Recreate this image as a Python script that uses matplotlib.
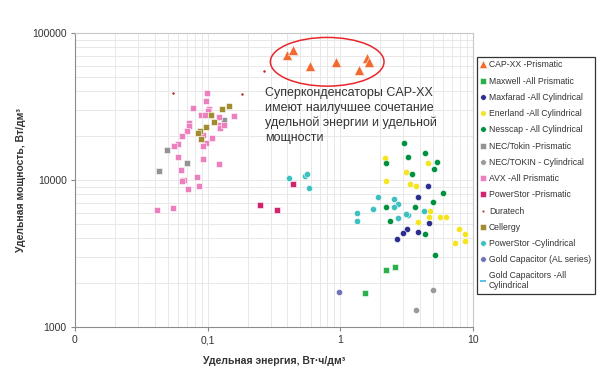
import matplotlib.pyplot as plt
from matplotlib.patches import Ellipse
from matplotlib.ticker import FixedLocator, NullFormatter

plt.rcParams['font.family'] = ['Liberation Sans', 'DejaVu Sans']

# energy (Wh/dm3), power (W/dm3) per manufacturer
capxx_e = [0.398, 0.442, 0.587, 0.922, 1.388, 1.595, 1.643]
capxx_p = [70500, 76600, 59900, 63200, 56000, 67900, 63800]

maxwell_e = [1.54, 2.21, 2.61]
maxwell_p = [1710, 2430, 2570]

maxfarad_e = [4.59, 3.85, 4.71, 3.18, 2.96, 3.85, 2.69]
maxfarad_p = [9100, 7700, 5100, 4660, 4380, 4410, 3970]

enerland_e = [2.18, 4.59, 3.12, 2.23, 3.35, 3.73, 4.73, 4.68, 5.66, 6.32, 3.83, 7.83, 8.72, 8.69, 7.39]
enerland_p = [14100, 13000, 11300, 9890, 9390, 9150, 6120, 5580, 5580, 5580, 5160, 4640, 4290, 3850, 3710]

nesscap_e = [3.05, 3.25, 4.35, 2.22, 5.37, 5.07, 3.45, 6.0, 5.03, 2.22, 3.69, 3.13, 2.36, 4.36, 5.19]
nesscap_p = [17900, 14400, 15300, 13000, 13300, 11900, 10900, 8160, 7120, 6520, 6550, 5870, 5260, 4290, 3070]

nec_pr_e = [0.1334, 0.0493, 0.0695, 0.0430]
nec_pr_p = [25500, 16000, 13100, 11600]

nec_cyl_e = [3.71, 5.01]
nec_cyl_p = [1310, 1780]

avx_e = [0.0988, 0.0966, 0.0779, 0.1023, 0.100, 0.0891, 0.0949, 0.1217, 0.157, 0.0719,
         0.0727, 0.0698, 0.064, 0.0922, 0.1231, 0.1238, 0.1334, 0.1083, 0.0971, 0.0922,
         0.0594, 0.056, 0.0594, 0.0917, 0.1222, 0.063, 0.0666, 0.0644, 0.0835, 0.0711,
         0.086, 0.0417, 0.0544]
avx_p = [39300, 34600, 30900, 30500, 29500, 27800, 27800, 26700, 27400, 24400,
         23400, 21600, 19800, 20200, 23600, 22500, 23800, 19200, 17900, 17000,
         17600, 16900, 14300, 13900, 12900, 11700, 10000, 9800, 10400, 8730,
         9100, 6280, 6450]

ps_pr_e = [0.25, 0.334, 0.439]
ps_pr_p = [6730, 6280, 9440]

duratech_e = [0.0551, 0.1813, 0.2656]
duratech_p = [39100, 38500, 55100]

cellergy_e = [0.1288, 0.144, 0.1054, 0.1115, 0.0966, 0.088, 0.0849, 0.0885]
cellergy_p = [30400, 31900, 27700, 24700, 22800, 21500, 20900, 18900]

ps_cyl_e = [0.408, 0.544, 0.557, 0.583, 1.341, 1.334, 1.78, 1.92, 2.54, 2.73, 2.54, 2.73, 3.25, 3.12, 4.32]
ps_cyl_p = [10300, 10700, 11000, 8820, 5940, 5290, 6380, 7700, 7460, 6900, 6580, 5510, 5780, 5870, 6120]

gold_al_e = [0.982]
gold_al_p = [1740]

gold_cyl_e = []
gold_cyl_p = []

series = [
    ('CAP-XX -Prismatic', capxx_e, capxx_p, '^', '#F26A30', 6.5),
    ('Maxwell -All Prismatic', maxwell_e, maxwell_p, 's', '#2BB04A', 4.2),
    ('Maxfarad -All Cylindrical', maxfarad_e, maxfarad_p, 'o', '#2B2E8C', 4.5),
    ('Enerland -All Cylindrical', enerland_e, enerland_p, 'o', '#F5E51E', 4.5),
    ('Nesscap - All Cylindrical', nesscap_e, nesscap_p, 'o', '#00913F', 4.5),
    ('NEC/Tokin -Prismatic', nec_pr_e, nec_pr_p, 's', '#939393', 4.2),
    ('NEC/TOKIN - Cylindrical', nec_cyl_e, nec_cyl_p, 'o', '#9A9A9A', 4.5),
    ('AVX -All Prismatic', avx_e, avx_p, 's', '#EC7FBE', 4.2),
    ('PowerStor -Prismatic', ps_pr_e, ps_pr_p, 's', '#D2246E', 4.8),
    ('Duratech', duratech_e, duratech_p, 'o', '#B0282C', 2.2),
    ('Cellergy', cellergy_e, cellergy_p, 's', '#A08D30', 4.5),
    ('PowerStor -Cylindrical', ps_cyl_e, ps_cyl_p, 'o', '#3CC0C0', 4.5),
    ('Gold Capacitor (AL series)', gold_al_e, gold_al_p, 'o', '#7074B4', 4.5),
    ('Gold Capacitors -All\nCylindrical', gold_cyl_e, gold_cyl_p, '_', '#3DB5E6', 5),
]

fig = plt.figure(figsize=(6, 3.76), dpi=100)
ax = fig.add_axes([0.125, 0.1303, 0.663, 0.782])

for label, e, p, m, c, ms in series:
    ax.plot(e, p, linestyle='none', marker=m, color=c, markersize=ms,
            markeredgecolor='white' if m != '_' else c, markeredgewidth=0.4 if m != '_' else 1.2,
            label=label, zorder=3)

ax.set_xscale('log')
ax.set_yscale('log')
ax.set_xlim(0.01, 10)
ax.set_ylim(1000, 100000)

ax.xaxis.set_major_locator(FixedLocator([0.01, 0.1, 1, 10]))
ax.set_xticklabels(['0', '0,1', '1', '10'])
ax.yaxis.set_major_locator(FixedLocator([1000, 10000, 100000]))
ax.set_yticklabels(['1000', '10000', '100000'])
ax.xaxis.set_minor_formatter(NullFormatter())
ax.yaxis.set_minor_formatter(NullFormatter())
ax.tick_params(which='major', length=3, width=0.8, color='#888888', labelsize=7.5,
               labelcolor='#333333', pad=3)
ax.tick_params(which='minor', length=0)

ax.grid(True, which='both', color='#e8e8e8', linewidth=0.7, zorder=0)
ax.set_axisbelow(True)
for s in ['left', 'bottom']:
    ax.spines[s].set_color('#8c8c8c')
for s in ['top', 'right']:
    ax.spines[s].set_color('#c8c8c8')

ax.set_xlabel('Удельная энергия, Вт·ч/дм³', fontsize=7.5, fontweight='bold',
              color='#333333', labelpad=8)
ax.set_ylabel('Удельная мощность, Вт/дм³', fontsize=7.5, fontweight='bold',
              color='#333333', labelpad=4)

ax.text(0.4785, 0.815, 'Суперконденсаторы CAP-XX\nимеют наилучшее сочетание\nудельной энергии и удельной\nмощности',
        transform=ax.transAxes, fontsize=9, color='#333333', va='top', ha='left',
        linespacing=1.3)

ax.add_patch(Ellipse((0.634, 0.902), 0.2857, 0.1656, transform=ax.transAxes,
                     fill=False, edgecolor='#E8262B', linewidth=1.1, zorder=4))

leg = ax.legend(loc='upper left', bbox_to_anchor=(477 / 600, 1 - 57 / 376),
                bbox_transform=fig.transFigure, fontsize=6.2, frameon=True,
                fancybox=False, edgecolor='black', borderaxespad=0,
                handlelength=0.6, handletextpad=0.4, labelspacing=0.84,
                borderpad=0.4, markerscale=0.9)
leg.get_frame().set_linewidth(0.9)
for t in leg.get_texts():
    t.set_color('#333333')
leg.get_texts()[-1].set_linespacing(1.1)

fig.savefig('out.png', dpi=100)
